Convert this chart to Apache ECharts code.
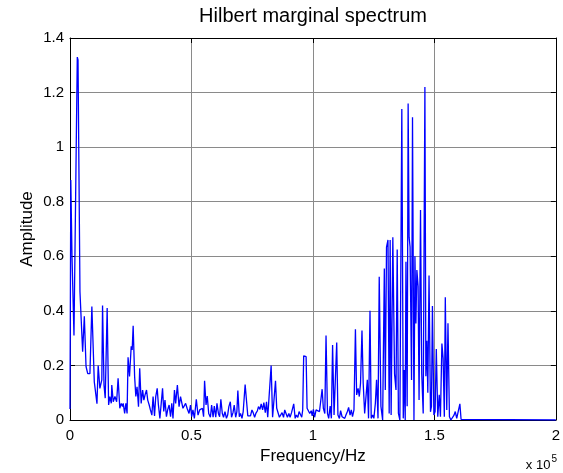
<!DOCTYPE html>
<html>
<head>
<meta charset="utf-8">
<script src="https://cdn.jsdelivr.net/npm/echarts@6/dist/echarts.min.js"></script>
<style>
html,body{margin:0;padding:0;background:#fff;}
#chart{width:563px;height:473px;}
</style>
</head>
<body>
<div id="chart"></div>
<script>
// Frequency in kHz
var freqKHz = [
0,0.33,0.82,1.64,3.0,3.3,4.1,5.2,5.9,6.6,7.3,8.2,9.0,10.0,10.7,11.1,11.6,12.3,13.1,13.4,
14.0,14.5,14.8,15.3,15.9,16.4,17.0,17.2,17.8,18.5,19.2,19.8,20.5,21.1,21.6,21.9,22.5,23.0,23.5,23.9,
24.5,25.2,25.6,26.0,26.6,27.1,27.6,28.2,28.7,29.3,29.9,30.4,30.9,31.5,32.0,32.6,33.1,33.7,34.2,34.8,
35.3,35.9,36.4,37.0,37.5,38.1,38.6,39.1,39.7,40.2,40.8,41.4,41.9,42.4,43.0,43.5,44.2,44.9,45.5,46.0,
46.5,47.1,47.6,48.2,49.0,49.6,50.1,50.6,51.2,52.0,52.7,53.4,54.1,54.5,55.0,55.4,56.0,56.5,57.1,57.8,
58.3,58.9,59.4,60.0,60.5,61.1,61.6,62.1,62.7,63.2,63.8,64.4,64.9,65.4,66.0,66.5,67.1,67.6,68.2,68.7,
69.1,69.7,70.2,70.8,71.3,71.9,72.1,72.7,73.2,73.8,74.3,74.9,75.4,76.0,76.5,77.1,77.6,78.2,78.7,79.3,
79.8,80.4,80.9,81.4,82.1,82.8,83.4,83.9,84.6,85.1,85.7,86.2,86.8,87.3,87.9,88.4,89.0,89.5,90.1,90.6,
91.2,91.7,92.1,92.7,93.2,93.8,94.3,94.9,95.4,95.8,96.2,96.8,97.2,97.6,98.2,98.7,99.3,99.7,100.2,100.7,
101.3,102.0,102.7,103.2,103.8,104.3,104.9,105.4,106.0,106.5,107.1,107.6,108.1,108.7,109.2,109.8,110.3,110.9,111.4,112.0,
112.5,113.1,113.6,114.2,114.7,115.3,115.8,116.3,116.9,117.5,118.0,118.6,119.1,119.6,120.2,120.7,121.3,121.8,122.4,122.9,
123.5,124.0,124.6,125.1,125.7,126.2,126.8,127.3,128.0,128.7,129.4,129.8,130.3,130.9,131.4,131.8,132.2,132.9,133.6,134.2,
134.7,135.2,135.8,136.6,137.2,137.6,138.0,138.3,138.8,139.2,139.6,140.0,140.6,141.0,141.6,142.0,142.4,142.8,143.3,143.7,
144.3,144.8,145.4,146.1,146.5,146.9,147.3,147.8,148.4,148.8,149.2,149.8,150.3,150.8,151.4,152.0,152.5,153.1,153.6,154.1,
154.5,155.1,155.6,156.2,156.8,157.4,158.1,158.6,159.2,159.9,160.5,161.0,161.5,200
];
// Amplitude values
var amplitude = [
0.04,0.88,0.6,0.31,1.33,1.32,0.47,0.25,0.38,0.196,0.17,0.17,0.416,0.14,0.135,0.06,0.2,0.116,0.147,0.42,
0.128,0.08,0.074,0.41,0.055,0.086,0.061,0.128,0.067,0.086,0.067,0.153,0.043,0.061,0.049,0.061,0.024,0.061,0.024,0.23,
0.16,0.27,0.257,0.345,0.16,0.086,0.122,0.049,0.19,0.061,0.11,0.073,0.092,0.11,0.073,0.055,0.037,0.018,0.086,0.015,
0.086,0.116,0.055,0.006,0.006,0.116,0.031,0.073,0.012,0.037,0.055,0.012,0.061,0.006,0.11,0.061,0.128,0.049,0.086,0.092,
0.043,0.049,0.061,0.043,0.024,0.055,0.012,0.037,0.006,0.076,0.018,0.037,0.031,0.043,0.012,0.144,0.055,0.088,0.024,0.01,
0.055,0.01,0.051,0.01,0.061,0.024,0.012,0.076,0.024,0.01,0.031,0.006,0.018,0.049,0.067,0.01,0.027,0.055,0.01,0.031,
0.108,0.012,0.024,0.006,0.031,0.024,0.13,0.067,0.015,0.009,0.015,0.037,0.027,0.01,0.024,0.033,0.049,0.039,0.059,0.037,
0.064,0.027,0.067,0.01,0.01,0.2,0.01,0.006,0.144,0.043,0.037,0.01,0.01,0.027,0.01,0.037,0.039,0.01,0.024,0.01,
0.027,0.031,0.059,0.006,0.018,0.01,0.031,0.024,0.01,0.037,0.235,0.232,0.232,0.043,0.037,0.024,0.034,0.015,0.039,0.01,
0.037,0.031,0.031,0.037,0.113,0.043,0.024,0.31,0.024,0.006,0.051,0.006,0.275,0.018,0.018,0.284,0.018,0.006,0.034,0.012,
0.018,0.006,0.018,0.031,0.046,0.018,0.037,0.012,0.037,0.333,0.092,0.116,0.086,0.135,0.328,0.135,0.024,0.018,0.147,0.006,
0.40,0.006,0.018,0.006,0.061,0.147,0.006,0.525,0.05,0.0,0.555,0.11,0.634,0.66,0.024,0.66,0.018,0.67,0.17,0.11,
0.625,0.024,0.0,1.14,0.006,0.183,0.0,0.58,0.05,1.16,0.67,0.634,0.147,1.11,0.0,0.6,0.354,0.55,0.49,0.073,
0.77,0.17,0.024,1.22,0.16,0.29,0.1,0.53,0.03,0.05,0.418,0.018,0.031,0.26,0.012,0.092,0.012,0.28,0.226,0.012,
0.45,0.037,0.355,0.012,0,0,0.018,0.031,0.006,0,0.059,0.002,0,0
];
var xTickValues = [0, 50000, 100000, 150000, 200000];
var yTickValues = [0, 0.2, 0.4, 0.6, 0.8, 1.0, 1.2, 1.4];

var seriesData = freqKHz.map(function (f, i) { return [f * 1000, amplitude[i]]; });

var FONT = '"Liberation Sans", Arial, sans-serif';
var chart = echarts.init(document.getElementById('chart'), null, {renderer: 'canvas'});

function xLabel(v) { return String(+(v / 1e5).toFixed(2)); }
function yLabel(v) { return String(+v.toFixed(1)); }

var axisLineStyle = {color: '#000', width: 1};
chart.setOption({
  animation: false,
  backgroundColor: '#fff',
  title: {
    text: 'Hilbert marginal spectrum',
    left: 313, top: 6, textAlign: 'center', padding: 0,
    textStyle: {fontFamily: FONT, fontSize: 20, fontWeight: 'normal', color: '#000'}
  },
  grid: {left: 70, right: 6, top: 38, bottom: 53, containLabel: false},
  xAxis: [{
    type: 'value', min: xTickValues[0], max: xTickValues[xTickValues.length - 1],
    interval: xTickValues[1] - xTickValues[0], position: 'bottom',
    name: 'Frequency/Hz', nameLocation: 'middle', nameGap: 25,
    nameTextStyle: {fontFamily: FONT, fontSize: 17, color: '#000'},
    axisLine: {show: true, onZero: false, lineStyle: axisLineStyle},
    axisTick: {show: true, inside: true, length: 5, lineStyle: axisLineStyle},
    axisLabel: {formatter: xLabel, fontFamily: FONT, fontSize: 15, color: '#000', margin: 8},
    splitLine: {show: true, lineStyle: {color: '#8a8a8a', width: 1}}
  }, {
    type: 'value', min: xTickValues[0], max: xTickValues[xTickValues.length - 1],
    interval: xTickValues[1] - xTickValues[0], position: 'top',
    axisLine: {show: true, onZero: false, lineStyle: axisLineStyle},
    axisTick: {show: true, inside: true, length: 5, lineStyle: axisLineStyle},
    axisLabel: {show: false}, splitLine: {show: false}
  }],
  yAxis: [{
    type: 'value', min: yTickValues[0], max: yTickValues[yTickValues.length - 1],
    interval: 0.2, position: 'left',
    name: 'Amplitude', nameLocation: 'middle', nameGap: 34, nameMoveOverlap: false,
    nameTextStyle: {fontFamily: FONT, fontSize: 17, color: '#000'},
    axisLine: {show: true, onZero: false, lineStyle: axisLineStyle},
    axisTick: {show: true, inside: true, length: 5, lineStyle: axisLineStyle},
    axisLabel: {formatter: yLabel, fontFamily: FONT, fontSize: 15, color: '#000', margin: 6},
    splitLine: {show: true, lineStyle: {color: '#8a8a8a', width: 1}}
  }, {
    type: 'value', min: yTickValues[0], max: yTickValues[yTickValues.length - 1],
    interval: 0.2, position: 'right',
    axisLine: {show: true, onZero: false, lineStyle: axisLineStyle},
    axisTick: {show: true, inside: true, length: 5, lineStyle: axisLineStyle},
    axisLabel: {show: false}, splitLine: {show: false}
  }],
  graphic: [{
    type: 'text', right: 6, bottom: 1,
    style: {
      text: '{a|x 10}{b|5}',
      rich: {
        a: {fontFamily: FONT, fontSize: 13, fill: '#000', verticalAlign: 'bottom'},
        b: {fontFamily: FONT, fontSize: 10, fill: '#000', padding: [0, 0, 8, 1]}
      }
    }
  }],
  series: [{
    type: 'line', xAxisIndex: 0, yAxisIndex: 0,
    data: seriesData, showSymbol: false, symbol: 'none',
    lineStyle: {color: '#0000ff', width: 1.3},
    itemStyle: {color: '#0000ff'},
    z: 3
  }]
});
</script>
</body>
</html>
